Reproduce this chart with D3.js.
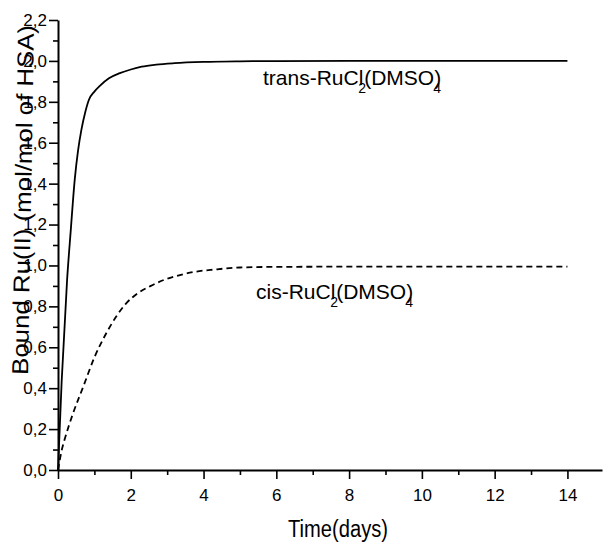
<!DOCTYPE html>
<html>
<head>
<meta charset="utf-8">
<script src="https://cdn.jsdelivr.net/npm/d3@7"></script>
<style>
  html, body { margin: 0; padding: 0; background: #fff; }
  svg { display: block; font-family: "Liberation Sans", Arial, sans-serif; }
</style>
</head>
<body>
<svg id="chart" width="603" height="542"></svg>
<script>
// Binding kinetics of Ru(II) complexes to HSA
const transDays   = [0, 0.1, 0.25, 0.35, 0.46, 0.55, 0.64, 0.75, 0.85, 1.0, 1.15, 1.4, 1.7, 2.0, 2.3, 2.7, 3.2, 4.0, 5.0, 6, 8, 10, 12, 14];
const transBound  = [0, 0.43, 0.93, 1.17, 1.42, 1.56, 1.66, 1.75, 1.81, 1.85, 1.878, 1.915, 1.94, 1.958, 1.972, 1.982, 1.989, 1.995, 1.998, 1.999, 2.0, 2.0, 2.0, 2.0];
const cisDays     = [0, 0.05, 0.1, 0.2, 0.4, 0.7, 1.0, 1.3, 1.6, 1.85, 2.2, 2.55, 2.95, 3.35, 3.8, 4.3, 5, 6, 8, 10, 12, 14];
const cisBound    = [0, 0.05, 0.095, 0.16, 0.27, 0.41, 0.55, 0.66, 0.75, 0.81, 0.865, 0.9, 0.932, 0.953, 0.97, 0.98, 0.99, 0.993, 0.994, 0.994, 0.994, 0.994];
const xMajorTicks = [0, 2, 4, 6, 8, 10, 12, 14];
const xMinorTicks = [1, 3, 5, 7, 9, 11, 13];
const yMajorTicks = [0, 0.2, 0.4, 0.6, 0.8, 1.0, 1.2, 1.4, 1.6, 1.8, 2.0, 2.2];
const yMinorTicks = [0.1, 0.3, 0.5, 0.7, 0.9, 1.1, 1.3, 1.5, 1.7, 1.9, 2.1];

const svg = d3.select("#chart");
const x = d3.scaleLinear().domain([0, 14.95]).range([58, 602]);
const y = d3.scaleLinear().domain([0, 2.2]).range([470, 20]);
const fmtY = d => d3.format(".1f")(d).replace(".", ",");

// x axis
const gx = svg.append("g").attr("transform", `translate(0,${y(0)})`);
gx.call(d3.axisBottom(x).tickValues(xMajorTicks).tickSize(9).tickSizeOuter(0).tickPadding(10).tickFormat(d3.format("d")));
const gxm = svg.append("g").attr("transform", `translate(0,${y(0)})`);
gxm.call(d3.axisBottom(x).tickValues(xMinorTicks).tickSize(5).tickSizeOuter(0).tickFormat(""));
gxm.select(".domain").remove();

// y axis
const gy = svg.append("g").attr("transform", `translate(${x(0)},0)`);
gy.call(d3.axisLeft(y).tickValues(yMajorTicks).tickSize(9).tickSizeOuter(0).tickPadding(2).tickFormat(fmtY));
const gym = svg.append("g").attr("transform", `translate(${x(0)},0)`);
gym.call(d3.axisLeft(y).tickValues(yMinorTicks).tickSize(5).tickSizeOuter(0).tickFormat(""));
gym.select(".domain").remove();

svg.selectAll(".domain").attr("stroke", "#000").attr("stroke-width", 2);
svg.selectAll(".tick line").attr("stroke", "#000").attr("stroke-width", 1.6);
svg.selectAll(".tick text").attr("fill", "#000").attr("font-size", 17).attr("font-family", "Liberation Sans, Arial, sans-serif");

// curves
const line = d3.line().x(d => x(d[0])).y(d => y(d[1])).curve(d3.curveMonotoneX);
svg.append("path")
  .datum(d3.zip(transDays, transBound))
  .attr("d", line).attr("fill", "none").attr("stroke", "#000").attr("stroke-width", 1.8);
svg.append("path")
  .datum(d3.zip(cisDays, cisBound))
  .attr("d", line).attr("fill", "none").attr("stroke", "#000").attr("stroke-width", 1.8)
  .attr("stroke-dasharray", "6,4");

// curve labels (formula with subscripts tucked under the preceding glyph)
function formulaLabel(prefix, px, py) {
  const t = svg.append("text").attr("x", px).attr("y", py).attr("font-size", 21).attr("fill", "#000");
  t.append("tspan").text(prefix + "-RuCl");
  t.append("tspan").attr("font-size", 14).attr("dx", -5).attr("dy", 8).text("2");
  t.append("tspan").attr("dx", -2).attr("dy", -8).text("(DMSO)");
  t.append("tspan").attr("font-size", 14).attr("dx", -8).attr("dy", 8).text("4");
}
formulaLabel("trans", 263, 85);
formulaLabel("cis", 256, 299);

// axis titles
svg.append("text")
  .attr("x", 338).attr("y", 537)
  .attr("text-anchor", "middle")
  .attr("font-size", 23)
  .attr("textLength", 100).attr("lengthAdjust", "spacingAndGlyphs")
  .text("Time(days)");

svg.append("text")
  .attr("transform", "translate(31,200) rotate(-89)")
  .attr("text-anchor", "middle")
  .attr("font-size", 23)
  .attr("textLength", 350).attr("lengthAdjust", "spacingAndGlyphs")
  .text("Bound Ru(II) (mol/mol of HSA)");
</script>
</body>
</html>
